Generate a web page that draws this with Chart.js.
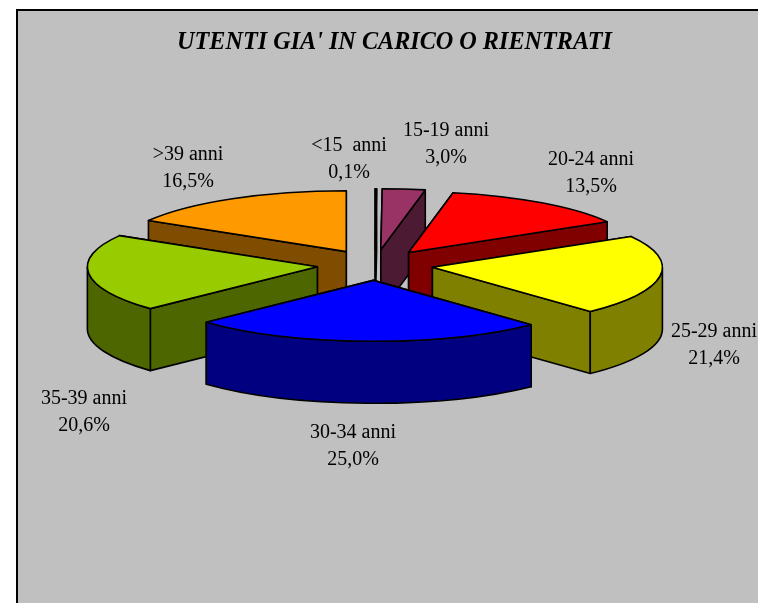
<!DOCTYPE html>
<html>
<head>
<meta charset="utf-8">
<style>
  html, body { margin: 0; padding: 0; background: #fff; overflow: hidden; }
  #wrap { width: 758px; height: 603px; }
</style>
<script src="https://cdn.jsdelivr.net/npm/chart.js@4/dist/chart.umd.min.js"></script>
</head>
<body>
<div id="wrap"><canvas id="chart" width="758" height="603"></canvas></div>
<script>
const chartTitle = "UTENTI GIA' IN CARICO O RIENTRATI";
const categories = ["<15  anni", "15-19 anni", "20-24 anni", "25-29 anni", "30-34 anni", "35-39 anni", ">39 anni"];
const percents = [0.1, 3.0, 13.5, 21.4, 25.0, 20.6, 16.5];
const topColors = ["#000000", "#993366", "#FF0000", "#FFFF00", "#0000FF", "#99CC00", "#FF9900"];
const wallColors = ["#000000", "#4D1A33", "#800000", "#808000", "#000080", "#4D6600", "#804D00"];

// centre of each two line label
const labelAnchors = [[349, 146], [446, 131], [591, 160], [714, 332], [353, 433], [84, 399], [188, 155]];

const squash = 0.265;
const depth = 62;
const explode = 58;

function geometry(arc) {
  const mid = (arc.startAngle + arc.endAngle) / 2;
  return {
    ax: arc.x + Math.cos(mid) * explode,
    ay: arc.y + Math.sin(mid) * explode * squash,
    r: arc.outerRadius,
    mid: mid
  };
}

function drawSlice(ctx, arc, i) {
  const g = geometry(arc);
  const ry = g.r * squash;
  ctx.strokeStyle = "#000";
  ctx.lineWidth = 1.6;
  ctx.lineJoin = "round";

  // cut faces, the one further back first
  const cuts = [arc.startAngle, arc.endAngle].sort(function (a, b) {
    return Math.sin(a) - Math.sin(b);
  });
  ctx.fillStyle = wallColors[i];
  cuts.forEach(function (a) {
    const rx = g.ax + Math.cos(a) * g.r;
    const rimY = g.ay + Math.sin(a) * ry;
    ctx.beginPath();
    ctx.moveTo(g.ax, g.ay);
    ctx.lineTo(rx, rimY);
    ctx.lineTo(rx, rimY + depth);
    ctx.lineTo(g.ax, g.ay + depth);
    ctx.closePath();
    ctx.fill();
    ctx.stroke();
  });

  // outer wall, front half only
  const from = Math.max(arc.startAngle, 0);
  const to = Math.min(arc.endAngle, Math.PI);
  if (to > from) {
    ctx.beginPath();
    ctx.ellipse(g.ax, g.ay, g.r, ry, 0, from, to);
    ctx.ellipse(g.ax, g.ay + depth, g.r, ry, 0, to, from, true);
    ctx.closePath();
    ctx.fill();
    ctx.stroke();
  }

  // top face is the library's own arc, flattened and moved out
  ctx.save();
  ctx.translate(g.ax - arc.x, g.ay);
  ctx.scale(1, squash);
  ctx.translate(0, -arc.y);
  arc.draw(ctx);
  ctx.restore();

  ctx.beginPath();
  ctx.moveTo(g.ax, g.ay);
  ctx.ellipse(g.ax, g.ay, g.r, ry, 0, arc.startAngle, arc.endAngle);
  ctx.closePath();
  ctx.stroke();
}

const pie3d = {
  id: "pie3d",
  beforeDraw(chart) {
    const ctx = chart.ctx;
    ctx.save();
    ctx.fillStyle = "#C0C0C0";
    ctx.fillRect(17, 10, 741, 593);
    ctx.strokeStyle = "#000";
    ctx.lineWidth = 2;
    ctx.beginPath();
    ctx.moveTo(17, 603);
    ctx.lineTo(17, 10);
    ctx.lineTo(758, 10);
    ctx.stroke();
    ctx.restore();
  },
  beforeDatasetsDraw(chart) {
    const ctx = chart.ctx;
    const arcs = chart.getDatasetMeta(0).data;
    const order = arcs.map(function (arc, i) { return i; });
    // back slices first
    order.sort(function (a, b) {
      return Math.sin(geometry(arcs[a]).mid) - Math.sin(geometry(arcs[b]).mid);
    });
    ctx.save();
    order.forEach(function (i) { drawSlice(ctx, arcs[i], i); });
    ctx.restore();
    return false;
  },
  afterDraw(chart) {
    const ctx = chart.ctx;
    ctx.save();
    ctx.fillStyle = "#000";
    ctx.textAlign = "center";
    ctx.textBaseline = "middle";
    ctx.font = "italic bold 24.2px 'Liberation Serif'";
    ctx.fillText(chartTitle, 394.5, 43);
    ctx.font = "20px 'Liberation Serif'";
    categories.forEach(function (name, i) {
      const pos = labelAnchors[i];
      ctx.fillText(name, pos[0], pos[1]);
      ctx.fillText(percents[i].toFixed(1).replace(".", ",") + "%", pos[0], pos[1] + 26.5);
    });
    ctx.restore();
  }
};

new Chart(document.getElementById("chart").getContext("2d"), {
  type: "pie",
  data: {
    labels: categories,
    datasets: [{
      data: percents,
      backgroundColor: topColors,
      borderWidth: 0
    }]
  },
  options: {
    responsive: false,
    animation: false,
    radius: 230,
    layout: { padding: { left: 0, right: 8, top: 0, bottom: 73 } },
    plugins: { legend: { display: false }, title: { display: false }, tooltip: { enabled: false } }
  },
  plugins: [pie3d]
});
</script>
</body>
</html>
